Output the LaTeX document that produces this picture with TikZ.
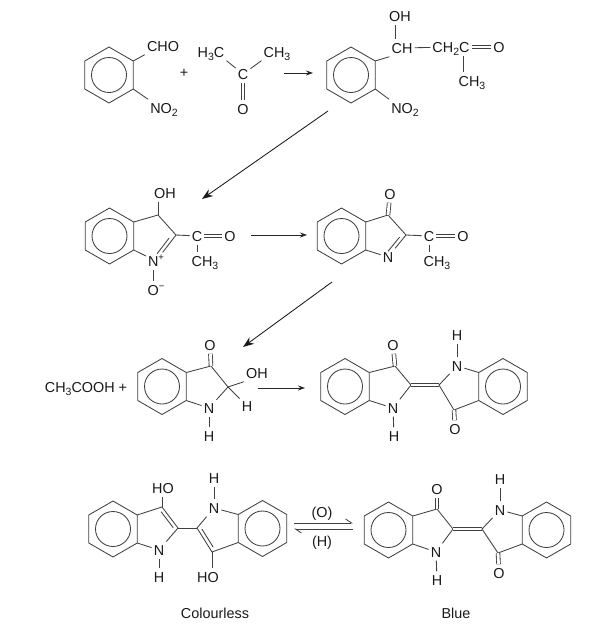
\documentclass[tikz,border=0pt]{standalone}
\usepackage{fontspec}
\setmainfont{Liberation Sans}
\usetikzlibrary{arrows.meta,calc}

\newcommand{\atomsub}[1]{\raisebox{-0.5ex}{\fontsize{10.5}{10.5}\selectfont #1}}
\newcommand{\atomsup}[1]{\raisebox{0.75ex}{\fontsize{9.5}{9.5}\selectfont #1}}

% ring with corners (#1-1) ... (#1-6), clockwise from the top
\newcommand{\benzring}[3]{
    \coordinate (#1) at (#2,#3);
    \foreach \k in {1,...,6}
        \coordinate (#1-\k) at ($(#1)+({210+60*\k}:28)$);
    \draw[bond] (#1-1) -- (#1-2) -- (#1-3) -- (#1-4) -- (#1-5) -- (#1-6) -- cycle;
    \draw[bond] (#1) circle (17.5);
}

\tikzset{
    bond/.style={line width=0.85pt,draw=black!75},
    dbond/.style={bond,double,double distance=2.8pt},
    rarrow/.style={line width=0.85pt,draw=black!85,-{Stealth[length=7pt,width=5pt]}},
    farrow/.style={line width=0.85pt,draw=black!90,-{Stealth[length=11pt,width=8pt]}},
    every node/.style={inner xsep=2pt,inner ysep=3.5pt,text height=10pt,text depth=0pt,
        font=\fontsize{14.4}{16}\selectfont,text=black!90}
}

\begin{document}
\begin{tikzpicture}[x=1pt,y=-1pt]
    \useasboundingbox (0,0) rectangle (600,635);

    % o-nitrobenzaldehyde + acetone
    \benzring{ra}{109}{75}
    \node (cho) at (163,46) {CHO};
    \node (noa) at (164,108) {NO\atomsub{2}};
    \draw[bond] (ra-2) -- (cho.south west);
    \draw[bond] (ra-3) -- (noa.north west);
    \node (plusa) at (184,72) {+};
    \node (hca) at (211,52) {H\atomsub{3}C};
    \node (ca) at (243,74) {C};
    \node (cha) at (277,52) {CH\atomsub{3}};
    \node (oa) at (243,109) {O};
    \draw[bond] (hca.south east) -- (ca);
    \draw[bond] (cha.south west) -- (ca);
    \draw[dbond] (ca) -- (oa);
    \coordinate (arra1) at (284,73);
    \coordinate (arra2) at (313,73);
    \draw[rarrow] (arra1) -- (arra2);

    % aldol product
    \benzring{rb}{351}{75}
    \node (ohb) at (400,16) {OH};
    \node (chb) at (402,48) {CH};
    \node (ccb) at (451,47) {CH\atomsub{2}C};
    \node (ob) at (499,47) {O};
    \node (chc) at (472,81) {CH\atomsub{3}};
    \node (nob) at (405,108) {NO\atomsub{2}};
    \draw[bond] (rb-2) -- (chb.south west);
    \draw[bond] (rb-3) -- (nob.north west);
    \draw[bond] ([xshift=-5pt]ohb.south) -- ([xshift=-7pt]chb.north);
    \draw[bond] (chb) -- (ccb);
    \draw[dbond] (ccb) -- (ob);
    \draw[bond] ([xshift=12pt]ccb.south) -- ([xshift=-9pt]chc.north);

    \coordinate (arrb1) at (328,111);
    \coordinate (arrb2) at (202,199);
    \draw[farrow] (arrb1) -- (arrb2);

    % N-oxide
    \benzring{rc}{109.5}{236}
    \node (ohc) at (165,193) {OH};
    \coordinate (c3c) at (158,215);
    \coordinate (c2c) at (176,235);
    \node (nc) at (156,261) {N\atomsup{+}};
    \node (omc) at (156,290) {O\atomsup{−}};
    \node (cc) at (197,236) {C};
    \node (oc) at (230,236) {O};
    \node (chd) at (205,261) {CH\atomsub{3}};
    \draw[bond] (rc-2) -- (c3c) -- (c2c);
    \draw[bond] (rc-3) -- (nc);
    \draw[bond] (c3c) -- ([xshift=-7pt]ohc.south);
    \draw[bond] (c2c) -- (nc);
    \draw[bond] ($(c2c)!.2!(nc)!3.6pt!-90:(nc)$) -- ($(c2c)!.8!(nc)!3.6pt!-90:(nc)$);
    \draw[bond] ([xshift=-3pt]nc.south) -- ([xshift=-3pt]omc.north);
    \draw[bond] (c2c) -- (cc);
    \draw[dbond] (cc) -- (oc);
    \draw[bond] (cc) -- ([xshift=-8pt]chd.north);
    \coordinate (arrc1) at (251,235);
    \coordinate (arrc2) at (307,235);
    \draw[rarrow] (arrc1) -- (arrc2);

    % 3H-indol-3-one
    \benzring{rd}{341.5}{236}
    \node (od) at (390,194) {O};
    \coordinate (c3d) at (388,215);
    \coordinate (c2d) at (406,235);
    \node (nd) at (388,257) {N};
    \node (cd) at (429,236) {C};
    \node (oe) at (463,236) {O};
    \node (che) at (437,261) {CH\atomsub{3}};
    \draw[bond] (rd-2) -- (c3d) -- (c2d);
    \draw[bond] (rd-3) -- (nd);
    \draw[dbond] (c3d) -- (od);
    \draw[bond] (c2d) -- (nd);
    \draw[bond] ($(c2d)!.2!(nd)!3.6pt!-90:(nd)$) -- ($(c2d)!.85!(nd)!3.6pt!-90:(nd)$);
    \draw[bond] (c2d) -- (cd);
    \draw[dbond] (cd) -- (oe);
    \draw[bond] (cd) -- ([xshift=-8pt]che.north);

    \coordinate (arrd1) at (332,282);
    \coordinate (arrd2) at (243,347);
    \draw[farrow] (arrd1) -- (arrd2);

    % acetic acid + indoxyl derivative
    \node (acid) at (86,387) {CH\atomsub{3}COOH +};
    \benzring{re}{162}{386.5}
    \node (oee) at (210,345) {O};
    \coordinate (c3e) at (211,366);
    \coordinate (c2e) at (228,387);
    \node (ohe) at (257,373) {OH};
    \node (he) at (247,406) {H};
    \node (ne) at (209,408) {N};
    \node (hne) at (209,436) {H};
    \draw[bond] (re-2) -- (c3e) -- (c2e);
    \draw[bond] (re-3) -- (ne);
    \draw[dbond] (c3e) -- (oee);
    \draw[bond] (c2e) -- (ne);
    \draw[bond] (c2e) -- (ohe.south west);
    \draw[bond] (c2e) -- (he);
    \draw[bond] (ne) -- (hne);
    \coordinate (arre1) at (258,388);
    \coordinate (arre2) at (305,388);
    \draw[rarrow] (arre1) -- (arre2);

    % indigo, third row
    \benzring{rf}{345}{386.5}
    \benzring{rg}{503}{386.5}
    \node (of) at (393,345) {O};
    \coordinate (c3f) at (395,366);
    \coordinate (c2f) at (411,385);
    \node (nf) at (393,408) {N};
    \node (hf) at (394,436) {H};
    \coordinate (c2g) at (439,385);
    \node (ng) at (457,366) {N};
    \node (hg) at (457,335) {H};
    \coordinate (c3g) at (454,410);
    \node (og) at (455,429) {O};
    \draw[bond] (rf-2) -- (c3f) -- (c2f) -- (nf);
    \draw[bond] (rf-3) -- (nf);
    \draw[dbond] (c3f) -- (of);
    \draw[bond] (nf) -- (hf);
    \draw[dbond] (c2f) -- (c2g);
    \draw[bond] (ng) -- (c2g) -- (c3g) -- (rg-5);
    \draw[bond] (rg-6) -- (ng);
    \draw[bond] (ng) -- (hg);
    \draw[dbond] (c3g) -- (og);

    % leuco form
    \benzring{rh}{113}{529}
    \benzring{ri}{262.5}{528.5}
    \node (hoh) at (163,488) {HO};
    \coordinate (c3h) at (162,507);
    \coordinate (c2h) at (178,528);
    \node (nh) at (159,550) {N};
    \node (hnh) at (159,577) {H};
    \coordinate (c2i) at (197,528);
    \node (ni) at (214,508) {N};
    \node (hni) at (214,478) {H};
    \coordinate (c3i) at (212,552);
    \node (hoi) at (208,577) {HO};
    \draw[bond] (rh-2) -- (c3h) -- (c2h) -- (nh);
    \draw[bond] ($(c3h)!.12!(c2h)!3.6pt!-90:(c2h)$) -- ($(c3h)!.88!(c2h)!3.6pt!-90:(c2h)$);
    \draw[bond] (rh-3) -- (nh);
    \draw[bond] (c3h) -- ([xshift=-1pt]hoh.south);
    \draw[bond] (nh) -- (hnh);
    \draw[bond] (c2h) -- (c2i);
    \draw[bond] (ni) -- (c2i) -- (c3i) -- (ri-5);
    \draw[bond] ($(c2i)!.12!(c3i)!3.6pt!90:(c3i)$) -- ($(c2i)!.88!(c3i)!3.6pt!90:(c3i)$);
    \draw[bond] (ri-6) -- (ni);
    \draw[bond] (ni) -- (hni);
    \draw[bond] (c3i) -- ([xshift=4pt]hoi.north);

    % equilibrium
    \node (oxid) at (322,512) {(O)};
    \node (redu) at (322,541) {(H)};
    \coordinate (eqa1) at (294,523);
    \coordinate (eqa2) at (353,523);
    \coordinate (eqb1) at (353,529);
    \coordinate (eqb2) at (294,529);
    \draw[bond,-{Straight Barb[left,length=6pt,width=8pt]}] (eqa1) -- (eqa2);
    \draw[bond,-{Straight Barb[left,length=6pt,width=8pt]}] (eqb1) -- (eqb2);

    % indigo, fourth row
    \benzring{rj}{388.5}{530}
    \benzring{rk}{546.5}{530}
    \node (oj) at (437,489) {O};
    \coordinate (c3j) at (437,509);
    \coordinate (c2j) at (453,529);
    \node (nj) at (436,552) {N};
    \node (hj) at (437,580) {H};
    \coordinate (c2k) at (482,529);
    \node (nk) at (500,510) {N};
    \node (hk) at (500,479) {H};
    \coordinate (c3k) at (498,553);
    \node (ok) at (499,573) {O};
    \draw[bond] (rj-2) -- (c3j) -- (c2j) -- (nj);
    \draw[bond] (rj-3) -- (nj);
    \draw[dbond] (c3j) -- (oj);
    \draw[bond] (nj) -- (hj);
    \draw[dbond] (c2j) -- (c2k);
    \draw[bond] (nk) -- (c2k) -- (c3k) -- (rk-5);
    \draw[bond] (rk-6) -- (nk);
    \draw[bond] (nk) -- (hk);
    \draw[dbond] (c3k) -- (ok);

    \node (colourless) at (215,613) {Colourless};
    \node (blue) at (456,613) {Blue};
\end{tikzpicture}
\end{document}
